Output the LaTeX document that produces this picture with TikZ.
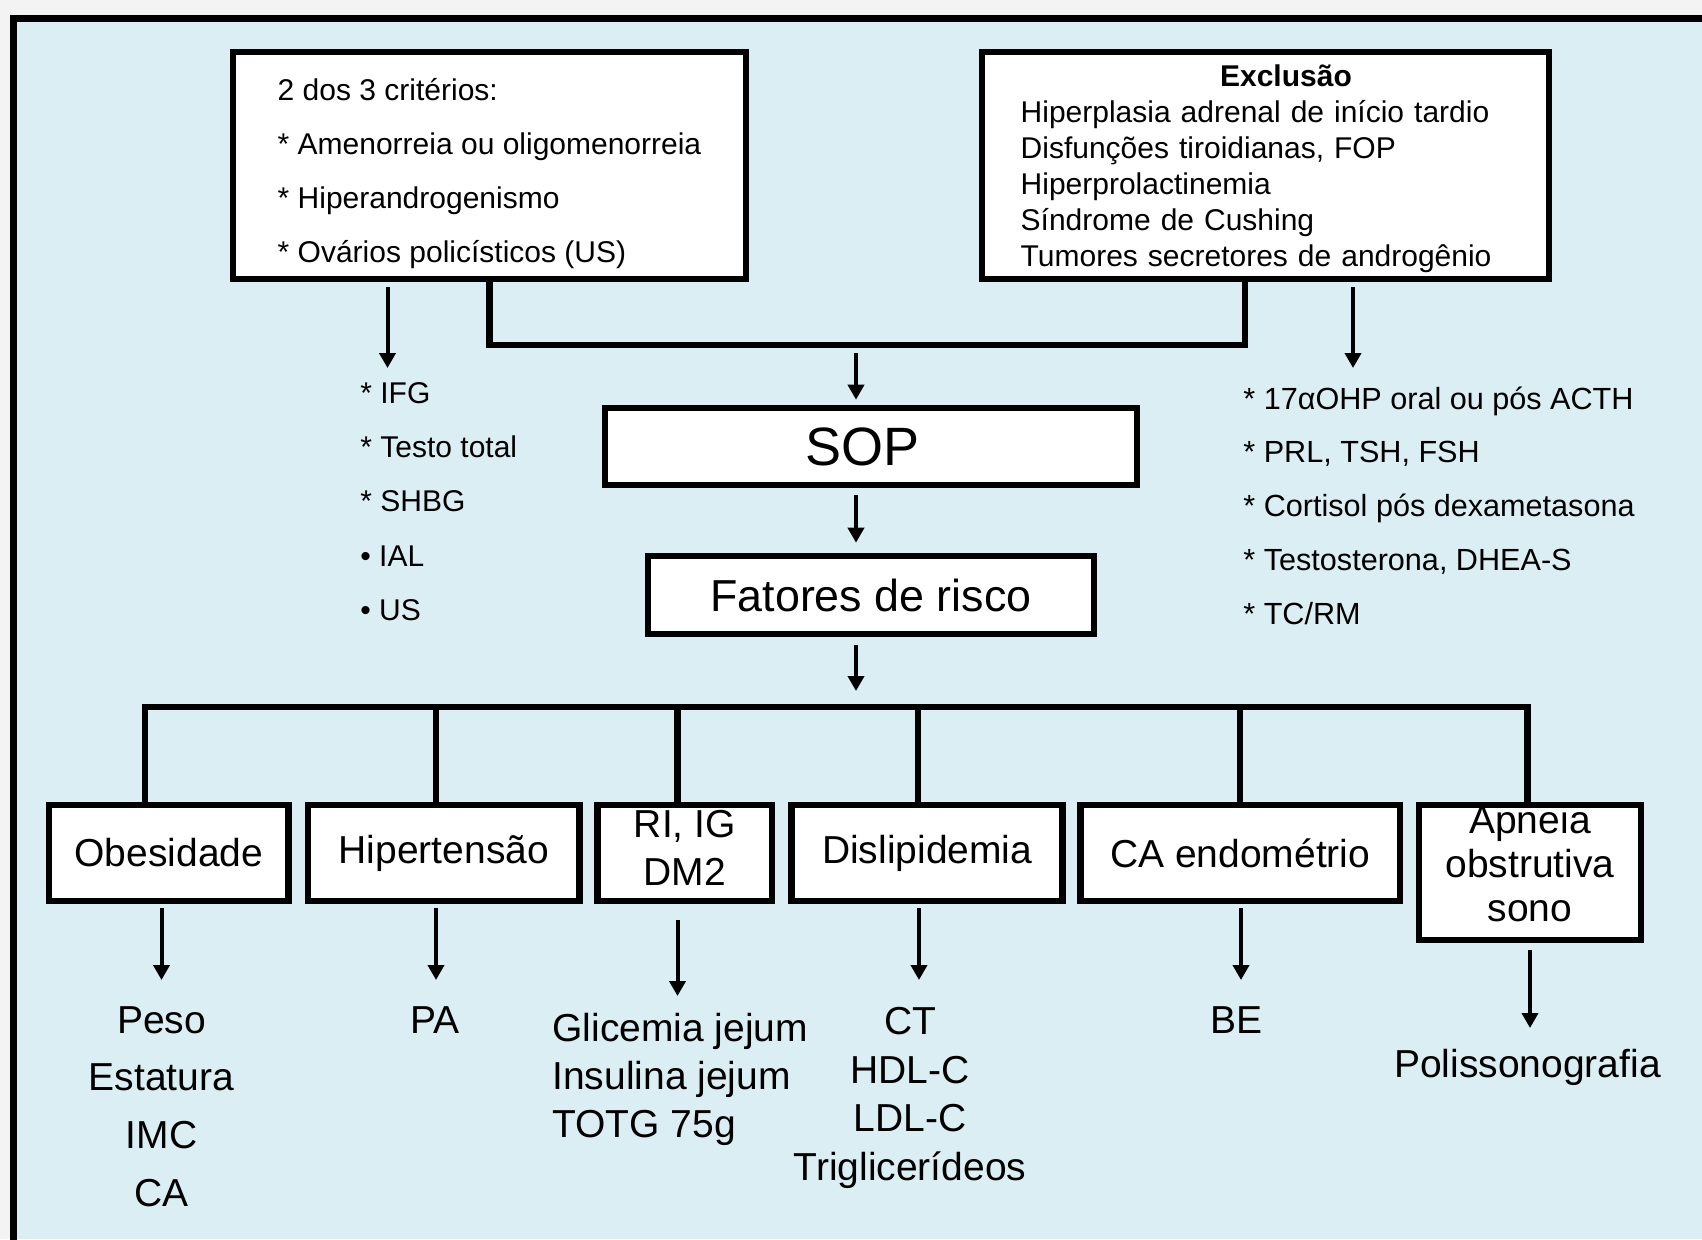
\documentclass[tikz,border=0pt]{standalone}
\usepackage{fontspec}
\setmainfont{Liberation Sans}
\usepackage{tikz}
\usetikzlibrary{arrows.meta}
\definecolor{panelblue}{RGB}{219,238,244}
\definecolor{pagegray}{RGB}{243,243,243}

\begin{document}
\begin{tikzpicture}[x=0.5pt,y=-0.5pt,
    box/.style={draw,line width=3.3pt,fill=white,inner sep=0pt,align=center},
    riskbox/.style={box,minimum height=48pt,font=\fontsize{19.5}{24}\selectfont},
    link/.style={line width=3.3pt},
    arr/.style={line width=2pt,-{Triangle[length=7.5pt,width=8pt]}},
    small/.style={align=left,inner sep=0pt,font=\fontsize{15}{27}\selectfont},
    exam/.style={align=center,inner sep=0pt,font=\fontsize{19.5}{24}\selectfont}]
    \useasboundingbox (0,0) rectangle (1702,1239);
    \fill[pagegray] (0,0) rectangle (1702,1239);
    \fill[panelblue] (13.5,18.5) rectangle (1702,1239);
    \draw[link,line width=3.5pt] (13.5,1260) -- (13.5,18.5) -- (1720,18.5);

    \node[box,minimum width=256.5pt,minimum height=113.5pt,align=left,
      font=\fontsize{15}{27.1}\selectfont] (crit) at (489.5,165.5)
      {\rule{0pt}{19pt}2 dos 3 critérios:\\{*} Amenorreia  ou oligomenorreia\\{*} Hiperandrogenismo\\{*} Ovários  policísticos (US)};
    \node[box,minimum width=283.5pt,minimum height=113.5pt,text width=244.8pt,align=left,
      font=\fontsize{15}{18}\selectfont] (excl) at (1265.5,165.5)
      {\rule{0pt}{14.5pt}\hspace*{99.7pt}\textbf{Exclusão}\\Hiperplasia adrenal de início tardio\\Disfunções tiroidianas, FOP\\
       Hiperprolactinemia\\Síndrome de Cushing\\Tumores secretores de androgênio};

    \node[small,anchor=west,font=\fontsize{15}{27.1}\selectfont] (labcrit) at (360,501.5)
      {{*} IFG\\{*} Testo  total\\{*} SHBG\\• IAL\\• US};
    \node[small,anchor=west,font=\fontsize{15.3}{26.9}\selectfont] (labexcl) at (1243,505.5)
      {{*} 17αOHP  oral ou pós ACTH\\{*} PRL,  TSH,  FSH\\{*} Cortisol  pós  dexametasona\\
       {*} Testosterona,  DHEA-S\\{*} TC/RM};
    \coordinate (labtip) at (387.5,368);
    \coordinate (exctip) at (1353,368);
    \draw[arr,shorten <=2.5pt] (crit.south -| labtip) -- (labtip);
    \draw[arr,shorten <=2.5pt] (excl.south -| exctip) -- (exctip);

    \coordinate (join) at (856,345);
    \coordinate (merge) at (856,353);
    \draw[link] (crit.south) |- (join) -| ([xshift=-10.25pt]excl.south);

    \node[box,minimum width=266pt,minimum height=38.5pt,font=\fontsize{27}{30}\selectfont] (sop) at (871,446.5) {\hspace*{-8.7pt}SOP};
    \node[box,minimum width=223pt,minimum height=39pt,font=\fontsize{22.4}{26}\selectfont] (fat) at (871,595) {Fatores de risco};
    \draw[arr,shorten >=2.5pt] (merge) -- (merge |- sop.north);
    \draw[arr,shorten <=3.5pt,shorten >=5pt] (sop.south -| merge) -- (fat.north -| merge);

    \node[riskbox,minimum width=119.8pt] (obes) at (168.8,853) {Obesidade};
    \node[riskbox,minimum width=135.8pt] (hyp) at (443.8,853) {Hipertensão};
    \node[riskbox,minimum width=87.2pt,text depth=5.4pt] (ri) at (684.8,853) {RI, IG\\DM2};
    \node[riskbox,minimum width=111pt,minimum height=67.5pt,text depth=9.5pt,font=\fontsize{19.5}{22}\selectfont] (apn) at (1530,872.5)
      {Apneia\\obstrutiva\\sono};
    \node[riskbox,minimum width=135.5pt] (disl) at (927.2,853) {Dislipidemia};
    \node[riskbox,minimum width=159.6pt] (caend) at (1240.2,853) {CA endométrio};

    \coordinate (b1) at (145,707);
    \coordinate (b2) at (436,707);
    \coordinate (b3) at (677.5,707);
    \coordinate (b4) at (918,707);
    \coordinate (b5) at (1240,707);
    \coordinate (b6) at (1527.5,707);
    \draw[arr,shorten <=4pt,shorten >=8pt] (fat.south -| merge) -- (merge |- b1);
    \draw[link] (b1 |- obes.north) -- (b1) -- (b6) -- (b6 |- apn.north);
    \draw[link] (b2) -- (b2 |- hyp.north);
    \draw[link] (b3) -- (b3 |- ri.north);
    \draw[link] (b4) -- (b4 |- disl.north);
    \draw[link] (b5) -- (b5 |- caend.north);

    \node[exam,font=\fontsize{19.5}{28.9}\selectfont] (peso) at (161.5,1106.5) {Peso\\Estatura\\IMC\\CA};
    \node[exam] (pa) at (435,1020) {PA};
    \node[exam,align=left,anchor=west,font=\fontsize{19.5}{23.9}\selectfont] (glic) at (552,1079.5)
      {Glicemia  jejum\\Insulina  jejum\\TOTG  75g};
    \node[exam,font=\fontsize{19.5}{24.4}\selectfont] (lipid) at (910,1098) {CT\\HDL-C\\LDL-C\\Triglicerídeos};
    \node[exam] (be) at (1236,1020) {BE};
    \node[exam] (polis) at (1527.5,1067) {Polissonografia};

    \coordinate (t1) at (161.5,980);
    \coordinate (t2) at (436,980);
    \coordinate (t3) at (677.5,996);
    \coordinate (t4) at (919,980);
    \coordinate (t5) at (1241,980);
    \coordinate (t6) at (1530,1028);
    \draw[arr,shorten <=2pt] (obes.south -| t1) -- (t1);
    \draw[arr,shorten <=2pt] (hyp.south -| t2) -- (t2);
    \draw[arr,shorten <=8pt] (ri.south -| t3) -- (t3);
    \draw[arr,shorten <=2pt] (disl.south -| t4) -- (t4);
    \draw[arr,shorten <=2pt] (caend.south -| t5) -- (t5);
    \draw[arr,shorten <=3.5pt] (apn.south -| t6) -- (t6);
  \end{tikzpicture}
\end{document}
